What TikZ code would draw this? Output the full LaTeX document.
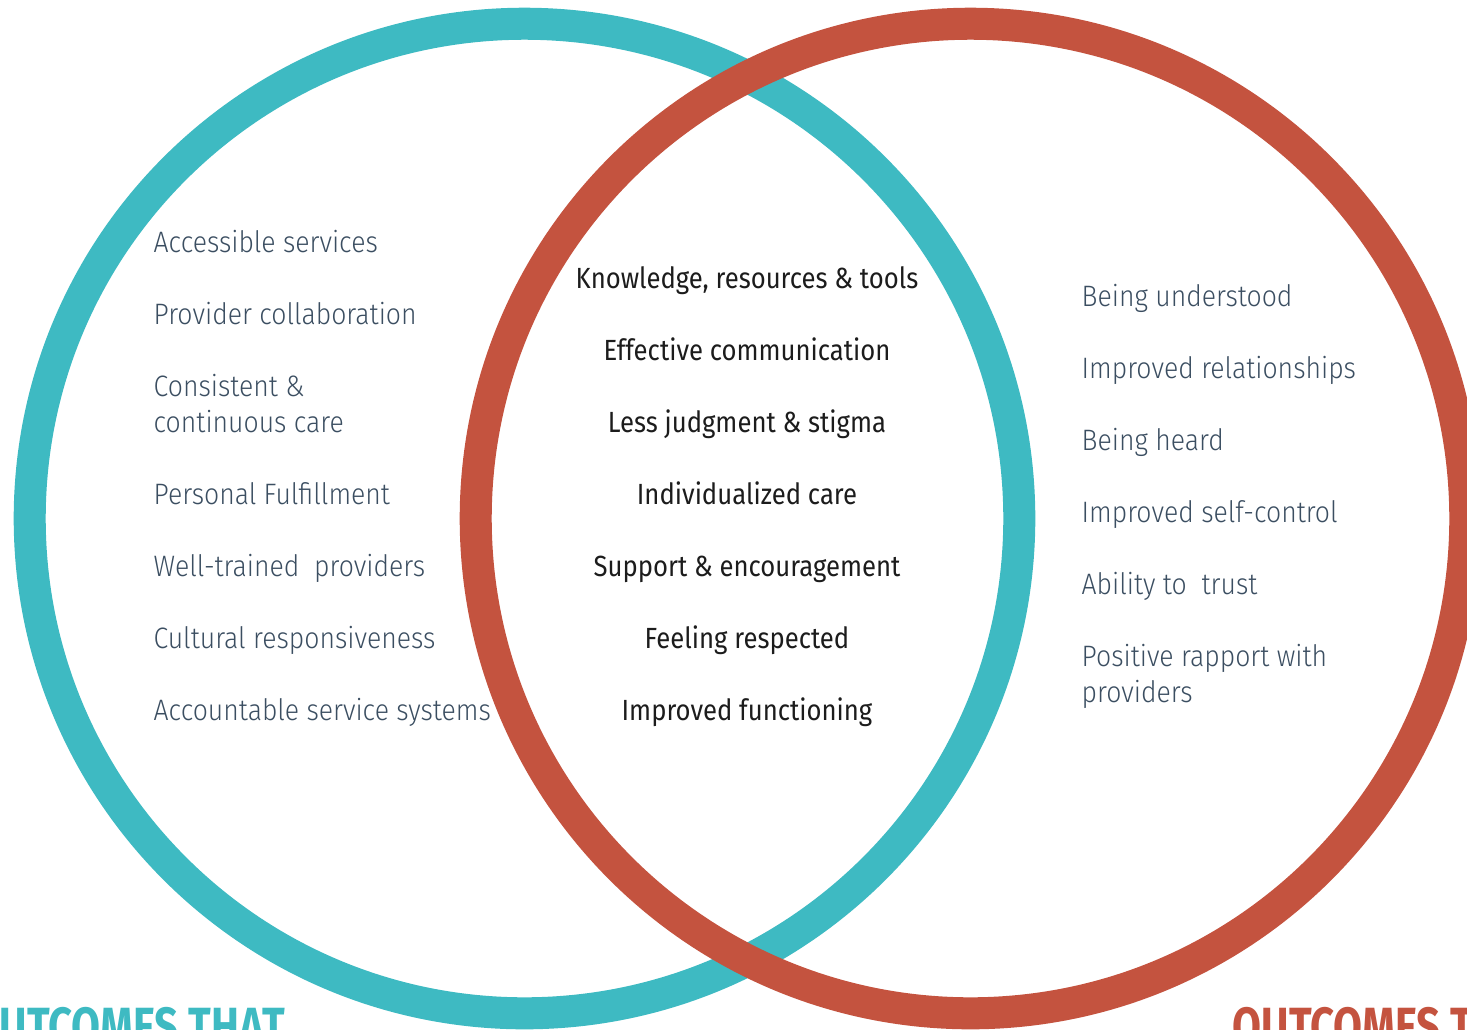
\documentclass[tikz,border=0pt]{standalone}
\usepackage{fontspec}
\setmainfont{Fira Sans}[UprightFont=* Light, BoldFont=* Bold, FakeStretch=0.9]
\newfontfamily\midfont{Fira Sans}[FakeStretch=0.88]
\newfontfamily\headfont{Fira Sans}[UprightFont=* Bold, FakeStretch=0.78]
\usetikzlibrary{positioning}

\definecolor{tealring}{HTML}{3EBAC2}
\definecolor{redring}{HTML}{C4533F}
\definecolor{slatetext}{HTML}{3B4E61}
\definecolor{inktext}{HTML}{1C1C1C}

\begin{document}
\begin{tikzpicture}[x=0.01cm,y=-0.01cm,
    ring/.style={line width=0.32cm},
    sideitem/.style={anchor=base west, inner sep=0pt, text=slatetext, align=left,
      font=\fontsize{8.4}{10.2}\selectfont},
    miditem/.style={anchor=base, inner sep=0pt, text=inktext,
      font=\midfont\fontsize{8.3}{10.2}\selectfont},
    headline/.style={anchor=base west, inner sep=0pt, font=\headfont\fontsize{15.3}{15.3}\selectfont}]
  \useasboundingbox (0,0) rectangle (1467,1029);
  \clip (0,0) rectangle (1467,1029);

  % the two rings, red one on top
  \coordinate (cl) at (524.5,518.5);
  \coordinate (cr) at (970.5,518.5);
  \draw[ring, tealring] (cl) circle[radius=4.945cm];
  \draw[ring, redring] (cr) circle[radius=4.945cm];

  % left set (two-line items sit on their last baseline)
  \foreach \y/\txt [count=\i] in {252/Accessible services, 324/Provider collaboration,
      432/{Consistent \&\\continuous care}, 504/Personal Fulfillment,
      576/Well-trained\ \ providers, 648/Cultural responsiveness,
      720/Accountable service systems}
    {\node[sideitem] (l\i) at (153,\y) {\txt};}

  % overlap
  \foreach \y/\txt [count=\i] in {288/{Knowledge, resources \& tools},
      360/Effective communication, 432/Less judgment \& stigma,
      504/Individualized care, 576/Support \& encouragement,
      648/Feeling respected, 720/Improved functioning}
    {\node[miditem] (m\i) at (747,\y) {\txt};}

  % right set
  \foreach \y/\txt [count=\i] in {306/Being understood, 378/Improved relationships,
      450/Being heard, 522/Improved self-control, 594/Ability to\ \ trust,
      702/{Positive rapport with\\providers}}
    {\node[sideitem] (r\i) at (1081,\y) {\txt};}

  % headings, cut by the page edge
  \node[headline, text=tealring] (hl) at (-1,1045) {UTCOMES THAT};
  \node[headline, text=redring] (hr) at (1232,1045) {OUTCOMES T};
\end{tikzpicture}
\end{document}
